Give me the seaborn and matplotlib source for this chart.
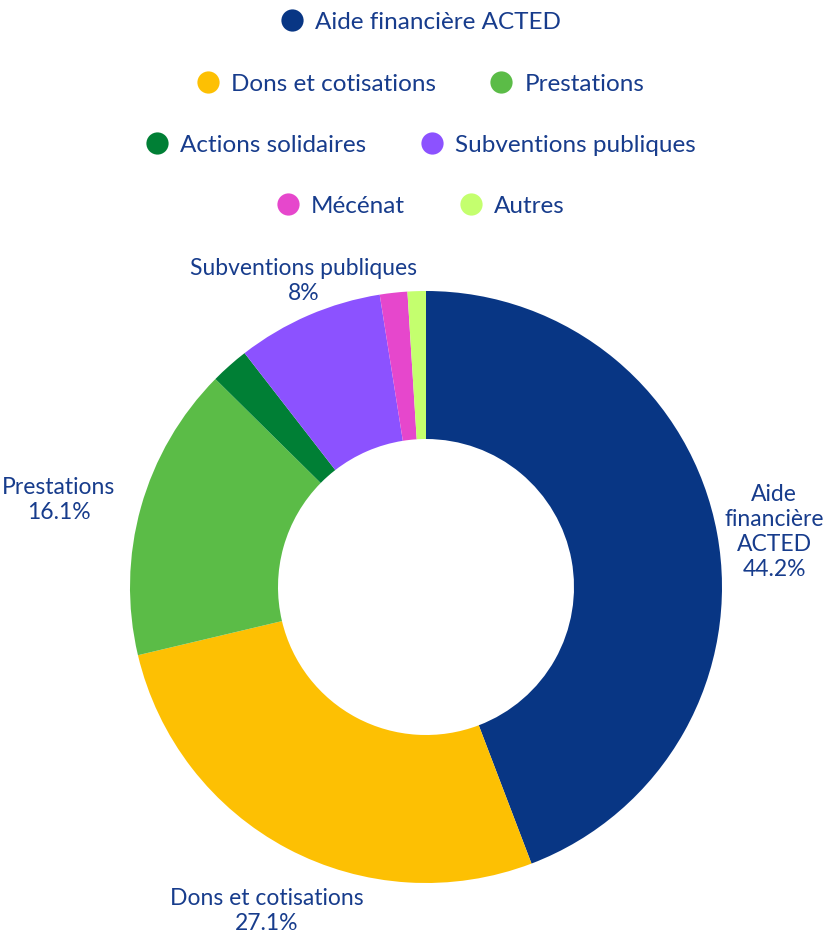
import numpy as np
import matplotlib
matplotlib.use("Agg")
import matplotlib.pyplot as plt
from matplotlib.lines import Line2D
import seaborn as sns

categories = ["Aide financière ACTED", "Dons et cotisations", "Prestations",
              "Actions solidaires", "Subventions publiques", "Mécénat", "Autres"]
shares = [44.2, 27.1, 16.1, 2.1, 8.0, 1.5, 1.0]
label_text = ["Aide\nfinancière\nACTED\n44.2%", "Dons et cotisations\n27.1%",
              "Prestations\n16.1%", "", "Subventions publiques\n8%", "", ""]
colors = ["#083684", "#FDC003", "#5BBC47", "#007F35", "#8C52FF", "#E647CC", "#C4FF6E"]
legend_rows = [[0], [1, 2], [3, 4], [5, 6]]

sns.set_theme(style="white")
plt.rcParams['font.family'] = ['Lato', 'DejaVu Sans']
text_color = '#173C8C'
palette = sns.color_palette(colors)
fs = 17.5

W, H = 837, 933
fig = plt.figure(figsize=(W / 100, H / 100), dpi=100)
cx, cy, R = 426, 587, 296
ax = fig.add_axes([(cx - R) / W, (H - cy - R) / H, 2 * R / W, 2 * R / H])

wedges, _ = ax.pie(shares, colors=palette, startangle=90, counterclock=False,
                   wedgeprops=dict(width=0.5, linewidth=0))
ax.set_xlim(-1, 1)
ax.set_ylim(-1, 1)
ax.set_aspect('equal')
ax.axis('off')

# etiquettes autour de l'anneau
for w, txt in zip(wedges, label_text):
    if not txt:
        continue
    ang = np.deg2rad((w.theta1 + w.theta2) / 2)
    x, y = np.cos(ang), np.sin(ang)
    ha = 'center' if abs(x) < 0.5 else ('left' if x > 0 else 'right')
    va = 'center' if abs(y) < 0.5 else ('bottom' if y > 0 else 'top')
    r = {'top': 1.15, 'bottom': 1.04, 'left': 1.025, 'right': 1.09}[va if va != 'center' else ha]
    ax.text(r * x, r * y, txt, ha=ha, va=va, multialignment='center',
            fontsize=16.5, color=text_color, linespacing=1.25, clip_on=False)

# legende en plusieurs lignes centrees
row_y = [22, 84, 145, 206]
for idxs, yy in zip(legend_rows, row_y):
    handles = [Line2D([], [], marker='o', ls='', markersize=16,
                      markerfacecolor=palette[i], markeredgewidth=0) for i in idxs]
    fig.legend(handles, [categories[i] for i in idxs], loc='center',
               bbox_to_anchor=(420 / W, 1 - yy / H), ncol=len(idxs), frameon=False,
               fontsize=fs, labelcolor=text_color, handletextpad=0.45,
               columnspacing=2.2, handlelength=1.0, borderpad=0)

fig.savefig("out.png", dpi=100, facecolor='white')
